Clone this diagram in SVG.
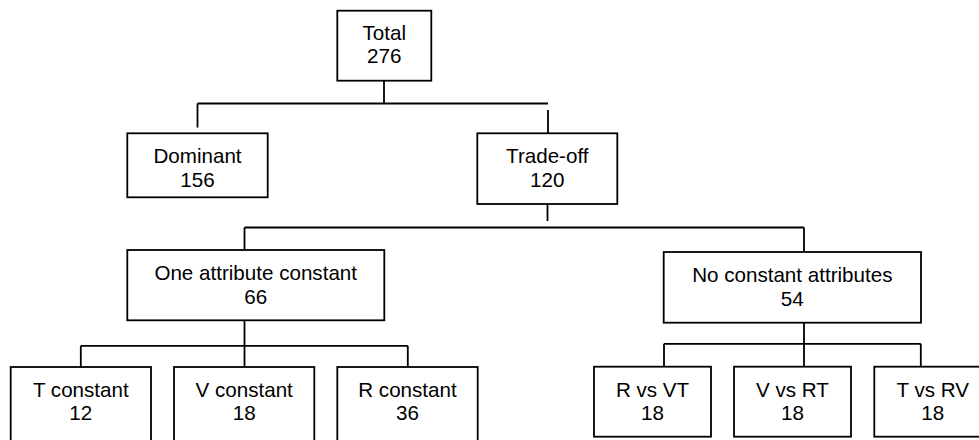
<svg xmlns="http://www.w3.org/2000/svg" width="979" height="440" viewBox="0 0 979 440">
<style>
.b{fill:#fff;stroke:#000;stroke-width:1.8}
.t{font-family:"Liberation Sans",Arial,sans-serif;font-size:20.6px;fill:#000;text-anchor:middle}
.c{fill:none;stroke:#000;stroke-width:1.8}
</style>
<rect width="979" height="440" fill="#fff"/>
<g id="connectors">
<path class="c" d="M384 81V103.5M197.5 103.5H548M197.5 103.5V127.5M548 110V133"/>
<path class="c" d="M547.5 204V221M244.5 227.5H804M244.5 227.5V250M804 227.5V252"/>
<path class="c" d="M244.5 320V367M80.8 345.8H407.8M80.8 345.8V370M407.8 345.8V370"/>
<path class="c" d="M804 322.7V367M664 343.8H920.8M664 343.8V367M920.8 343.8V367"/>
</g>
<g id="n-total"><rect class="b" x="337.3" y="10.7" width="94" height="70"/><text class="t" x="384.3" y="40">Total</text><text class="t" x="384.3" y="63">276</text></g>
<g id="n-dominant"><rect class="b" x="127.3" y="133.3" width="140.4" height="64"/><text class="t" x="197.5" y="163.3">Dominant</text><text class="t" x="197.5" y="186.7">156</text></g>
<g id="n-tradeoff"><rect class="b" x="477.3" y="133.3" width="140" height="70.7"/><text class="t" x="547.3" y="163.3">Trade-off</text><text class="t" x="547.3" y="186.7">120</text></g>
<g id="n-one"><rect class="b" x="127.3" y="250" width="257" height="70.3"/><text class="t" x="255.7" y="280">One attribute constant</text><text class="t" x="255.7" y="304">66</text></g>
<g id="n-none"><rect class="b" x="663.7" y="252" width="257.3" height="70.7"/><text class="t" x="792.3" y="281.7">No constant attributes</text><text class="t" x="792.3" y="306">54</text></g>
<g id="n-tconst"><rect class="b" x="10.7" y="367" width="140.3" height="80"/><text class="t" x="80.8" y="397.3">T constant</text><text class="t" x="80.8" y="420">12</text></g>
<g id="n-vconst"><rect class="b" x="174" y="367" width="140.3" height="80"/><text class="t" x="244.2" y="397.3">V constant</text><text class="t" x="244.2" y="420">18</text></g>
<g id="n-rconst"><rect class="b" x="337.3" y="367" width="140.4" height="80"/><text class="t" x="407.5" y="397.3">R constant</text><text class="t" x="407.5" y="420">36</text></g>
<g id="n-rvt"><rect class="b" x="594" y="366.7" width="117" height="70"/><text class="t" x="652.5" y="397">R vs VT</text><text class="t" x="652.5" y="420">18</text></g>
<g id="n-vrt"><rect class="b" x="734" y="366.7" width="117" height="70"/><text class="t" x="792.5" y="397">V vs RT</text><text class="t" x="792.5" y="420">18</text></g>
<g id="n-trv"><rect class="b" x="874.3" y="366.7" width="117" height="70"/><text class="t" x="932.7" y="397">T vs RV</text><text class="t" x="932.7" y="420">18</text></g>
</svg>
